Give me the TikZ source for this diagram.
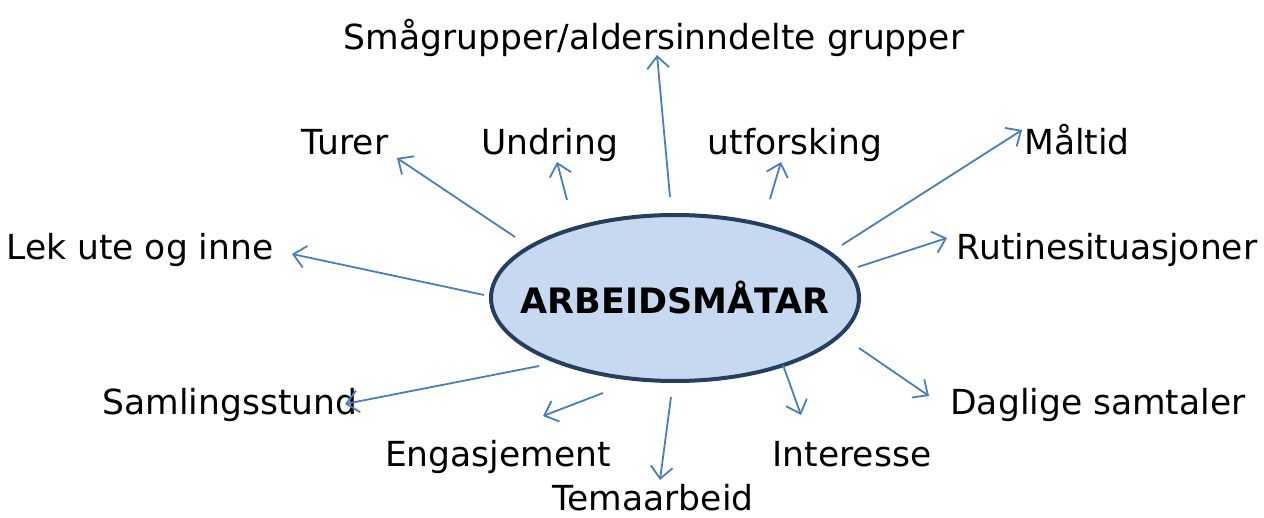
\documentclass[tikz,border=0pt]{standalone}
\usepackage{fontspec}
\setmainfont{DejaVu Sans}
\usetikzlibrary{arrows.meta,shapes.geometric}
\definecolor{arrowblue}{HTML}{4A7EBB}
\definecolor{ellfill}{HTML}{C6D9F1}
\definecolor{elldraw}{HTML}{243F60}
\tikzset{
  lbl/.style={anchor=base,inner sep=0pt,font=\fontsize{34.5}{40}\selectfont},
  conn/.style={draw=arrowblue,line width=1.8pt,-{Straight Barb[length=12pt,width=22pt,line width=1.8pt]}},
}
\begin{document}
\begin{tikzpicture}[x=1pt,y=-1pt]
\useasboundingbox (0,0) rectangle (1264,518);
\node[ellipse,draw=elldraw,line width=4pt,fill=ellfill,inner sep=0pt,minimum width=368pt,minimum height=166pt] (c) at (675,298) {};
\node[inner sep=0pt,font=\bfseries\fontsize{35}{40}\selectfont] (ct) at (c.center) {ARBEIDSMÅTAR};
\node[lbl] (t1) at (654,50) {Smågrupper/aldersinndelte grupper};
\node[lbl] (t2) at (345,155) {Turer};
\node[lbl] (t3) at (550,155) {Undring};
\node[lbl] (t4) at (795,155) {utforsking};
\node[lbl] (t5) at (1077,155) {Måltid};
\node[lbl] (t6) at (1107,260) {Rutinesituasjoner};
\node[lbl] (t7) at (140,260) {Lek ute og inne};
\node[lbl] (t8) at (230,415) {Samlingsstund};
\node[lbl] (t9) at (498,467) {Engasjement};
\node[lbl] (t10) at (653,510) {Temaarbeid};
\node[lbl] (t11) at (852,467) {Interesse};
\node[lbl] (t12) at (1098,415) {Daglige samtaler};
\coordinate (s1) at (670,197); \coordinate (e1) at (657,55);
\coordinate (s2) at (515,237); \coordinate (e2) at (397,158);
\coordinate (s3) at (567,200); \coordinate (e3) at (557,162);
\coordinate (s4) at (770,199); \coordinate (e4) at (781,162);
\coordinate (s5) at (842,245); \coordinate (e5) at (1022,130);
\coordinate (s6) at (858,267); \coordinate (e6) at (947,238);
\coordinate (s7) at (484,295); \coordinate (e7) at (292,254);
\coordinate (s8) at (539,366); \coordinate (e8) at (345,404);
\coordinate (s9) at (603,393); \coordinate (e9) at (543,416);
\coordinate (s10) at (671,397); \coordinate (e10) at (660,480);
\coordinate (s11) at (783,365); \coordinate (e11) at (801,415);
\coordinate (s12) at (859,348); \coordinate (e12) at (929,396);
\foreach \i in {1,...,12} { \draw[conn] (s\i) -- (e\i); }
\end{tikzpicture}
\end{document}
